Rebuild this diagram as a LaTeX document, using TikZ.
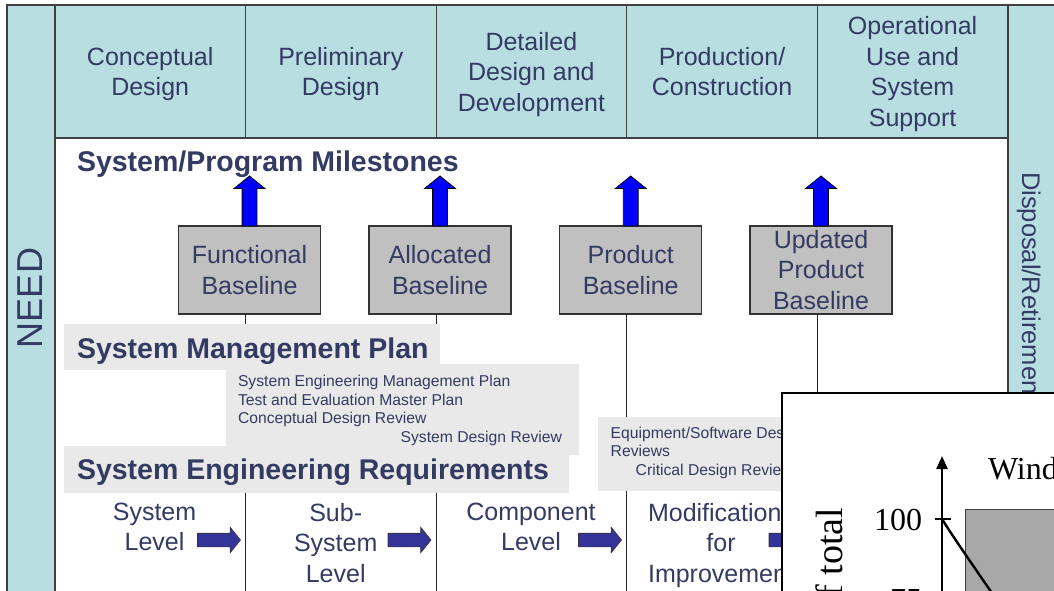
\documentclass[tikz,border=0pt]{standalone}
\usepackage{fontspec}
\setmainfont{Liberation Sans}
\newfontfamily\plotfont{Liberation Serif}
\usetikzlibrary{arrows.meta,positioning,shapes.arrows}
\definecolor{phaseteal}{HTML}{B8DEE1}
\definecolor{inkblue}{HTML}{343B62}
\definecolor{basegray}{HTML}{C0C0C0}
\definecolor{panelgray}{HTML}{E9E9E9}
\definecolor{plotgray}{HTML}{A8A8A8}
\definecolor{milestone}{HTML}{0000FF}
\definecolor{flownavy}{HTML}{333399}

\begin{document}
\begin{tikzpicture}[
    x=1pt, y=-1pt,
    every node/.style={text=inkblue, inner sep=0pt, outer sep=0pt},
    phase/.style={draw=black!75, line width=1.2pt, fill=phaseteal,
      minimum width=190.6pt, minimum height=133pt, align=center,
      text depth=0pt, font=\fontsize{25}{30.5}\selectfont},
    sidebar/.style={draw=black!75, line width=1.2pt, fill=phaseteal},
    baselinebox/.style={draw=black!80, line width=1.2pt, fill=basegray,
      minimum width=142pt, minimum height=88pt, align=center,
      font=\fontsize{25}{30.5}\selectfont},
    divider/.style={black!85, line width=1.1pt},
    panel/.style={fill=panelgray},
    heading/.style={font=\fontsize{28.5}{34}\selectfont\bfseries},
    doc/.style={font=\fontsize{15.7}{18.5}\selectfont},
    level/.style={align=center, font=\fontsize{25}{30.5}\selectfont},
    uparrow/.style={shape=single arrow, draw=black, line width=0.8pt, fill=milestone,
      rotate=90, inner xsep=0pt, inner ysep=7pt, single arrow head extend=8pt,
      single arrow tip angle=102, minimum height=50pt},
    flowarrow/.style={shape=single arrow, draw=black!80, line width=0.6pt, fill=flownavy,
      inner xsep=0pt, inner ysep=6.5pt, single arrow head extend=6pt,
      single arrow tip angle=102, minimum height=43pt},
    plotlabel/.style={text=black, font=\plotfont\fontsize{32}{38}\selectfont},
    axisline/.style={black, line width=2.4pt},
  ]
  \useasboundingbox (0,0) rectangle (1054,591);
  \clip (0,0) rectangle (1054,591);
  \fill[white] (0,0) rectangle (1054,591);

  % side columns
  \draw[sidebar] (7,5) rectangle (55,640);
  \node[rotate=90, font=\fontsize{36}{40}\selectfont] (need) at (30.5,298) {NEED};
  \draw[sidebar] (1008,5) rectangle (1080,640);
  \node[rotate=-90, anchor=base west, font=\fontsize{25.5}{30}\selectfont] (disposal) at (1022,172) {Disposal/Retirement};

  % life-cycle phases
  \node[phase] (cd) at (150.2,71.5) {Conceptual\\Design};
  \node[phase] (pd) at (340.8,71.5) {Preliminary\\Design};
  \node[phase] (ddd) at (531.4,71.5) {Detailed\\Design and\\Development};
  \node[phase] (pc) at (722,71.5) {Production/\\Construction};
  \node[phase] (ous) at (912.6,71.5) {Operational\\Use and\\System\\Support};

  % baselines
  \node[baselinebox] (fb) at (249.5,270) {Functional\\Baseline};
  \node[baselinebox] (ab) at (440,270) {Allocated\\Baseline};
  \node[baselinebox] (pb) at (630.7,270) {Product\\Baseline};
  \node[baselinebox] (upb) at (821,270) {Updated\\Product\\Baseline};

  \coordinate (floor) at (0,600);
  \draw[divider] (cd.east |- fb.south) -- (cd.east |- floor);
  \draw[divider] (pd.east |- ab.south) -- (pd.east |- floor);
  \draw[divider] (ddd.east |- pb.south) -- (ddd.east |- floor);
  \draw[divider] (pc.east |- upb.south) -- (pc.east |- floor);

  \node[uparrow, anchor=west] (fbup) at (fb.north) {};
  \node[uparrow, anchor=west] (abup) at (ab.north) {};
  \node[uparrow, anchor=west] (pbup) at (pb.north) {};
  \node[uparrow, anchor=west] (upbup) at (upb.north) {};
  \node[heading, anchor=base west] (milestones) at (77,171) {System/Program Milestones};

  % management plan and requirements
  \fill[panel] (64,324) rectangle (439.5,370);
  \fill[panel] (226,364) rectangle (578.5,455);
  \fill[panel] (64,446) rectangle (568.5,493);
  \node[heading, anchor=base west] (smp) at (77,358) {System Management Plan};
  \node[doc, anchor=base west] (semp) at (238,386.5) {System Engineering Management Plan};
  \node[doc, anchor=base west] (temp) at (238,405) {Test and Evaluation Master Plan};
  \node[doc, anchor=base west] (cdr) at (238,423.5) {Conceptual Design Review};
  \node[doc, anchor=base east] (sdr) at (562,442) {System Design Review};
  \node[heading, anchor=base west] (ser) at (77,479) {System Engineering Requirements};

  \fill[panel] (598,417) rectangle (800,491);
  \node[doc, anchor=base west] (eqsw) at (610.7,438.3) {Equipment/Software Design};
  \node[doc, anchor=base west] (revs) at (610.7,456.7) {Reviews};
  \node[doc, anchor=base west] (crit) at (635.7,475) {Critical Design Review};

  % levels
  \node[level, anchor=north] (syslvl) at (154.5,503) {System\\Level};
  \node[level, anchor=north] (sublvl) at (335.7,503) {Sub-\\System\\Level};
  \node[level, anchor=north] (complvl) at (531,503) {Component\\Level};
  \node[level, anchor=north] (modlvl) at (721,503) {Modifications\\for\\Improvement};
  \node[flowarrow, anchor=west] (flow1) at (197.5,540) {};
  \node[flowarrow, anchor=west] (flow2) at (388,540) {};
  \node[flowarrow, anchor=west] (flow3) at (578.5,540) {};
  \node[flowarrow, anchor=west] (flow4) at (769,540) {};

  % inset plot
  \draw[black, line width=1.6pt, fill=white] (782,393) rectangle (1080,640);
  \fill[plotgray, draw=black!75, line width=1pt] (965,509) rectangle (1080,640);
  \coordinate (yfoot) at (942,640);
  \coordinate (ytip) at (942,456);
  \coordinate (t100) at (942,519);
  \draw[axisline, -{Triangle[length=13pt,width=11pt]}] (yfoot) -- (ytip);
  \draw[axisline] ([xshift=-7pt]t100) -- ([xshift=9pt]t100);
  \draw[axisline] (t100) .. controls (955,540) and (975,568) .. (1000,605);
  \node[plotlabel, anchor=base east] (l100) at (922,530) {100};
  \node[plotlabel, anchor=base east] (l75) at (922,610) {75};
  \node[plotlabel, anchor=base west] (window) at (988,479) {Window};
  \node[plotlabel, rotate=90, anchor=base east, font=\plotfont\fontsize{38}{44}\selectfont] (pct) at (842,508) {\% of total};
\end{tikzpicture}
\end{document}
